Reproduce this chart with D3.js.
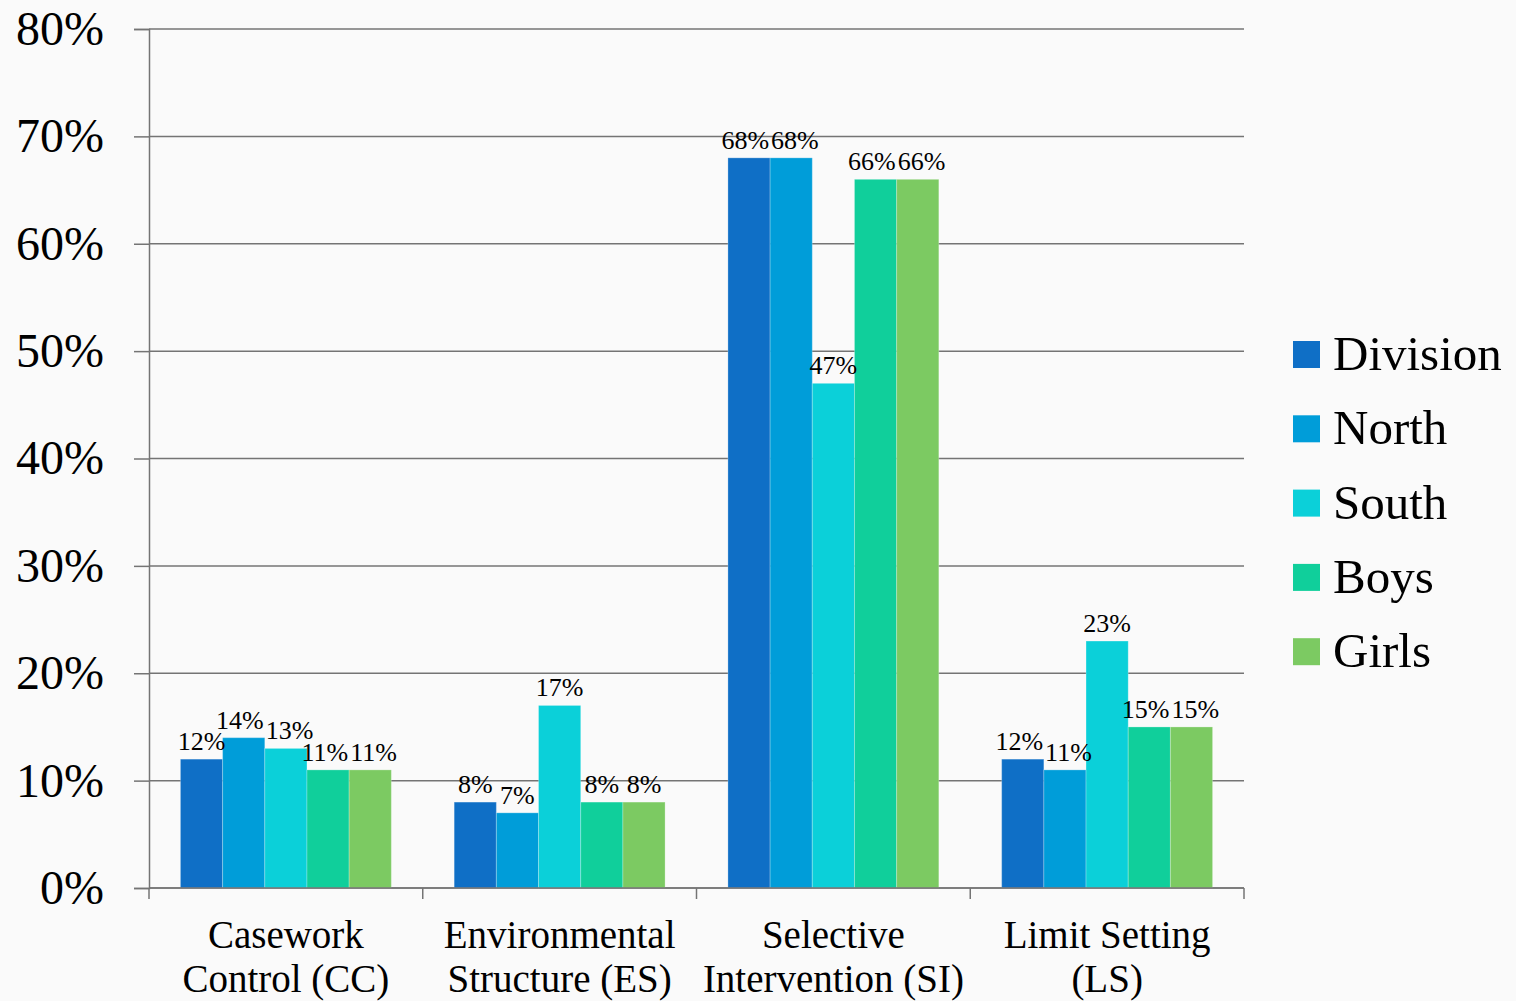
<!DOCTYPE html>
<html>
<head>
<meta charset="utf-8">
<script src="https://cdn.jsdelivr.net/npm/d3@7"></script>
<style>
  html, body { margin: 0; padding: 0; background: #fafafa; }
  svg { display: block; }
  text { font-family: "Liberation Serif", "DejaVu Serif", serif; fill: #000; }
</style>
</head>
<body>
<svg id="chart" width="1516" height="1001"></svg>
<script>
// Categories (two-line labels) and series
const categories = ["CC", "ES", "SI", "LS"];
const categoryLabels = [
  ["Casework", "Control (CC)"],
  ["Environmental", "Structure (ES)"],
  ["Selective", "Intervention (SI)"],
  ["Limit Setting", "(LS)"]
];
const seriesNames = ["Division", "North", "South", "Boys", "Girls"];
const seriesColors = ["#0f6fc6", "#009dd9", "#0bd0d9", "#10cf9b", "#7cca62"];

// Percent values per series, in category order
const division = [12, 8, 68, 12];
const north    = [14, 7, 68, 11];
const south    = [13, 17, 47, 23];
const boys     = [11, 8, 66, 15];
const girls    = [11, 8, 66, 15];
const seriesValues = [division, north, south, boys, girls];

const yTicks = [0, 10, 20, 30, 40, 50, 60, 70, 80];

const svg = d3.select("#chart");
const plot = { left: 149, right: 1244, top: 29, bottom: 888 };

const x0 = d3.scaleBand().domain(categories).range([plot.left, plot.right]).padding(0);
const x1 = d3.scaleBand().domain(seriesNames)
  .range([0, x0.bandwidth()]).paddingInner(0).paddingOuter(0.745);
const y = d3.scaleLinear().domain([0, 80]).range([plot.bottom, plot.top]);
const color = d3.scaleOrdinal().domain(seriesNames).range(seriesColors);

// Horizontal gridlines
svg.append("g").selectAll("line").data(yTicks).join("line")
  .attr("x1", plot.left).attr("x2", plot.right)
  .attr("y1", d => y(d)).attr("y2", d => y(d))
  .attr("stroke", "#747474").attr("stroke-width", 1.5);

// Bars
const rows = [];
categories.forEach((c, ci) => {
  seriesNames.forEach((s, si) => rows.push({ cat: c, series: s, value: seriesValues[si][ci] }));
});

svg.append("g").selectAll("rect").data(rows).join("rect")
  .attr("x", d => x0(d.cat) + x1(d.series))
  .attr("y", d => y(d.value))
  .attr("width", x1.bandwidth())
  .attr("height", d => y(0) - y(d.value))
  .attr("fill", d => color(d.series))
  .attr("stroke", "rgba(255,255,255,0.25)").attr("stroke-width", 1);

// Value labels, centred over each bar, then nudged apart where neighbours collide
const labelSize = 26;
const labels = svg.append("g").selectAll("text").data(rows).join("text")
  .attr("text-anchor", "middle")
  .attr("font-size", labelSize)
  .text(d => d.value + "%");

labels.each(function (d) {
  d.cx = x0(d.cat) + x1(d.series) + x1.bandwidth() / 2;
  d.by = y(d.value) - 9;
  d.w = this.getComputedTextLength();
});
categories.forEach(c => {
  const group = rows.filter(r => r.cat === c);
  for (let pass = 0; pass < 6; pass++) {
    for (let i = 0; i < group.length - 1; i++) {
      const a = group[i], b = group[i + 1];
      if (Math.abs(a.by - b.by) >= labelSize * 0.8) continue;
      const overlap = (a.cx + a.w / 2 + 2) - (b.cx - b.w / 2);
      if (overlap > 0) { a.cx -= overlap / 2; b.cx += overlap / 2; }
    }
  }
});
labels.attr("x", d => d.cx).attr("y", d => d.by);

// Y axis
const yAxis = svg.append("g").attr("transform", `translate(${plot.left},0)`)
  .call(d3.axisLeft(y).tickValues(yTicks).tickFormat(d => d + "%").tickSize(15).tickPadding(30));
yAxis.select(".domain").attr("stroke", "#747474").attr("stroke-width", 1.5);
yAxis.selectAll(".tick line").attr("stroke", "#747474").attr("stroke-width", 1.5);
yAxis.selectAll(".tick text")
  .attr("font-family", "Liberation Serif, serif").attr("font-size", 48).attr("fill", "#000");

// X axis: boundary ticks between groups
const xAxisG = svg.append("g");
xAxisG.append("line")
  .attr("x1", plot.left).attr("x2", plot.right)
  .attr("y1", y(0)).attr("y2", y(0))
  .attr("stroke", "#747474").attr("stroke-width", 1.5);
const boundaries = categories.map(c => x0(c)).concat([x0(categories[categories.length - 1]) + x0.bandwidth()]);
xAxisG.selectAll("line.tick").data(boundaries).join("line").attr("class", "tick")
  .attr("x1", d => d).attr("x2", d => d)
  .attr("y1", y(0)).attr("y2", y(0) + 11)
  .attr("stroke", "#747474").attr("stroke-width", 1.5);

// Category labels
const catLabel = svg.append("g").selectAll("text").data(categories).join("text")
  .attr("text-anchor", "middle")
  .attr("font-size", 39)
  .attr("transform", d => `translate(${x0(d) + x0.bandwidth() / 2},0)`);
catLabel.selectAll("tspan").data((d, i) => categoryLabels[i]).join("tspan")
  .attr("x", 0)
  .attr("y", (d, i) => 948 + i * 44)
  .text(d => d);

// Legend
const legend = svg.append("g").selectAll("g").data(seriesNames).join("g")
  .attr("transform", (d, i) => `translate(1293,${341 + i * 74.3})`);
legend.append("rect").attr("width", 27).attr("height", 27).attr("fill", d => color(d));
legend.append("text").attr("x", 40).attr("y", 29).attr("font-size", 49).text(d => d);
</script>
</body>
</html>
